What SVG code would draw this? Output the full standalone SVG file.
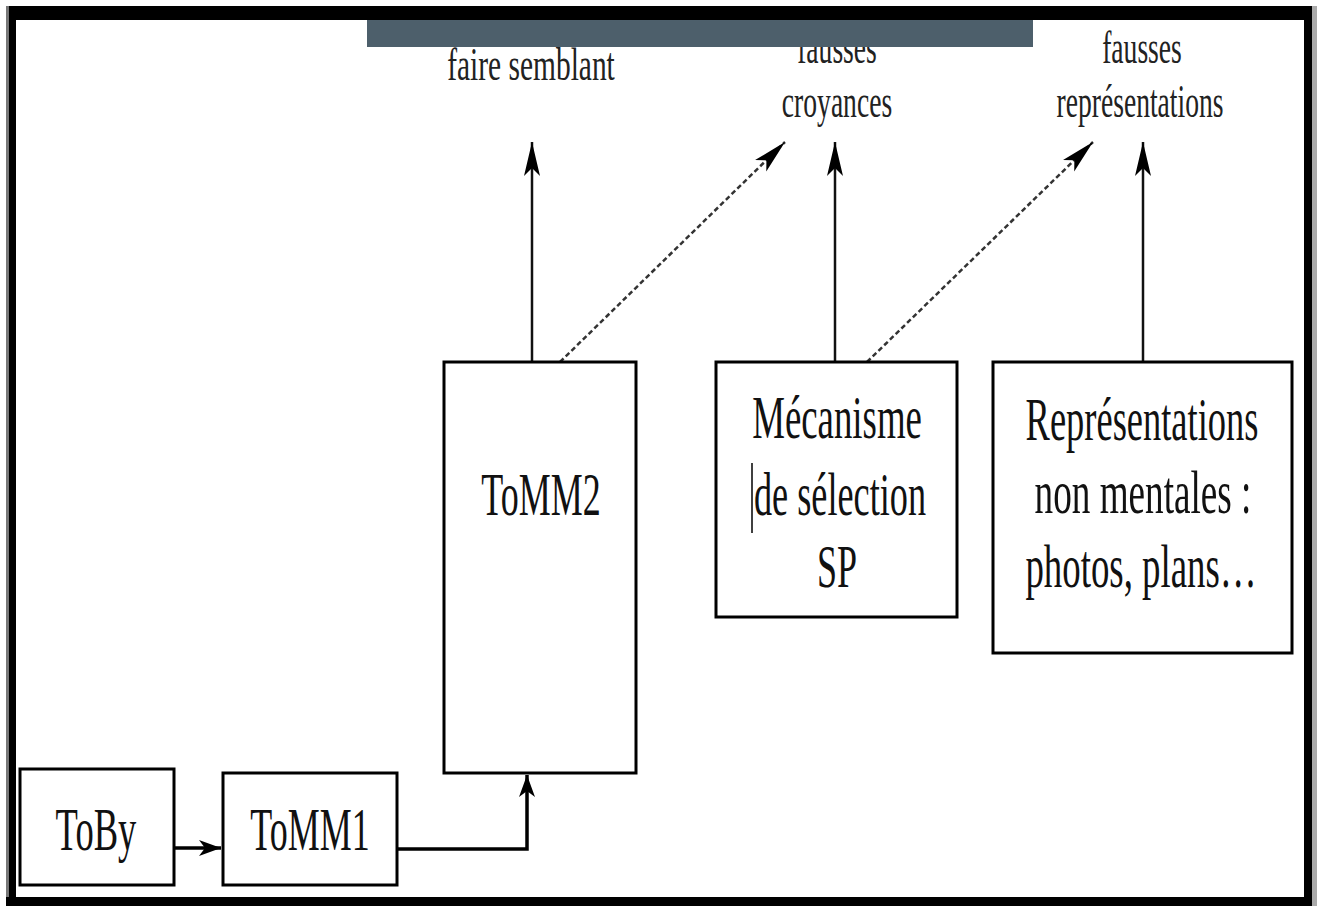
<svg xmlns="http://www.w3.org/2000/svg" width="1317" height="906" viewBox="0 0 1317 906">
<style>
.box{fill:#fff;stroke:#000;stroke-width:3}
.bt{font-family:"Liberation Serif","Times New Roman",serif;font-size:62px;fill:#111;text-anchor:middle}
.lt{font-family:"Liberation Serif","Times New Roman",serif;font-size:46px;fill:#222;text-anchor:middle}
.solid{fill:none;stroke:#111;stroke-width:2.5}
.thick{fill:none;stroke:#000;stroke-width:3.5}
.dash{fill:none;stroke:#333;stroke-width:2.5;stroke-dasharray:5 3}
</style>
<defs>
<marker id="ah" markerUnits="userSpaceOnUse" markerWidth="40" markerHeight="22" viewBox="-36 -11 38 22" refX="0" refY="0" orient="auto">
<path d="M0,0 L-34,-8 L-26,0 L-34,8 Z" fill="#000"/>
</marker>
<marker id="ahs" markerUnits="userSpaceOnUse" markerWidth="30" markerHeight="22" viewBox="-26 -11 28 22" refX="0" refY="0" orient="auto">
<path d="M0,0 L-22,-8 L-16,0 L-22,8 Z" fill="#000"/>
</marker>
</defs>
<rect x="0" y="0" width="1317" height="906" fill="#fff"/>
<g id="labels">
<text class="lt" transform="translate(531,80) scale(0.64,1)">faire semblant</text>
<text class="lt" transform="translate(837,63) scale(0.6,1)">fausses</text>
<text class="lt" transform="translate(837,117) scale(0.6,1)">croyances</text>
<text class="lt" transform="translate(1142,63) scale(0.6,1)">fausses</text>
<text class="lt" transform="translate(1140,117) scale(0.6,1)">représentations</text>
</g>
<g id="frame">
<rect x="367" y="20" width="666" height="27" fill="#4d5f6b"/>
<rect x="6" y="6" width="1306" height="14" fill="#000"/>
<rect x="6" y="6" width="3" height="900" fill="#777"/>
<rect x="9" y="6" width="7" height="900" fill="#000"/>
<rect x="1304" y="6" width="8" height="900" fill="#000"/>
<rect x="1312" y="6" width="5" height="900" fill="#aaa"/>
<rect x="6" y="897" width="1306" height="9" fill="#000"/>
</g>
<g id="connectors">
<line class="thick" x1="174" y1="848" x2="221" y2="848" marker-end="url(#ahs)"/>
<polyline class="thick" points="397,849 527,849 527,775" marker-end="url(#ahs)"/>
<line class="solid" x1="532" y1="362" x2="532" y2="142" marker-end="url(#ah)"/>
<line class="dash" x1="560" y1="362" x2="785" y2="142" marker-end="url(#ah)"/>
<line class="solid" x1="835" y1="362" x2="835" y2="142" marker-end="url(#ah)"/>
<line class="dash" x1="867" y1="362" x2="1093" y2="142" marker-end="url(#ah)"/>
<line class="solid" x1="1143" y1="362" x2="1143" y2="142" marker-end="url(#ah)"/>
</g>
<g id="toby">
<rect class="box" x="20" y="769" width="154" height="116"/>
<text class="bt" transform="translate(96,850) scale(0.59,1)">ToBy</text>
</g>
<g id="tomm1">
<rect class="box" x="223" y="773" width="174" height="112"/>
<text class="bt" transform="translate(310,850) scale(0.58,1)">ToMM1</text>
</g>
<g id="tomm2">
<rect class="box" x="444" y="362" width="192" height="411"/>
<text class="bt" transform="translate(541,515) scale(0.58,1)">ToMM2</text>
</g>
<g id="mecanisme">
<rect class="box" x="716" y="362" width="241" height="255"/>
<text class="bt" transform="translate(837,438) scale(0.594,1)">Mécanisme</text>
<text class="bt" transform="translate(840,515) scale(0.585,1)">de sélection</text>
<text class="bt" transform="translate(837,587) scale(0.58,1)">SP</text>
<line x1="752" y1="463" x2="752" y2="533" stroke="#000" stroke-width="1.5"/>
</g>
<g id="representations">
<rect class="box" x="993" y="362" width="299" height="291"/>
<text class="bt" transform="translate(1142,440) scale(0.588,1)">Représentations</text>
<text class="bt" transform="translate(1143,513) scale(0.6,1)">non mentales :</text>
<text class="bt" transform="translate(1141,587) scale(0.594,1)">photos, plans…</text>
</g>
</svg>
